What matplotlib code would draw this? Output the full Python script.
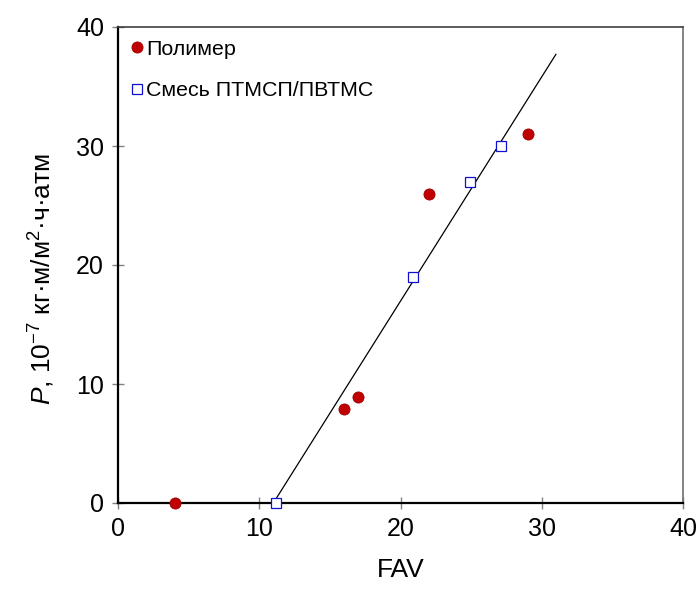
import matplotlib
matplotlib.use("Agg")
import matplotlib.pyplot as plt

plt.rcParams['font.family'] = ['Liberation Sans', 'DejaVu Sans']
plt.rcParams['mathtext.fontset'] = 'custom'
plt.rcParams['mathtext.rm'] = 'Liberation Sans'
plt.rcParams['mathtext.it'] = 'Liberation Sans:italic'

# Data
polymer_x = [4, 16, 17, 22, 29]
polymer_y = [0, 7.9, 8.9, 26, 31]
blend_x = [11.2, 20.9, 24.9, 27.1]
blend_y = [0, 19, 27, 30]
fit_x = [11.0, 31.0]
fit_y = [0, 37.7]

ticks = [0, 10, 20, 30, 40]

fig = plt.figure(figsize=(6.97, 5.90), dpi=100)
ax = fig.add_axes([118/697, 87/590, (683-118)/697, (503-27)/590])

ax.plot(fit_x, fit_y, color='black', lw=0.9, zorder=2)
ax.plot(polymer_x, polymer_y, ls='none', marker='o', ms=8, mfc='#C00000',
        mec='#A00000', mew=0.6, label='Полимер', zorder=3, clip_on=False)
ax.plot(blend_x, blend_y, ls='none', marker='s', ms=7.3, mfc='white',
        mec='#1010D0', mew=0.9, label='Смесь ПТМСП/ПВТМС', zorder=3, clip_on=False)

ax.set_xlim(0, 40)
ax.set_ylim(0, 40)
ax.set_xticks(ticks)
ax.set_yticks(ticks)
ax.tick_params(direction='inout', length=8, width=1, color='#808080',
               labelsize=18, pad=6)

for s in ['left', 'bottom']:
    ax.spines[s].set_linewidth(1.6)
    ax.spines[s].set_color('black')
for s in ['top', 'right']:
    ax.spines[s].set_linewidth(1.2)
    ax.spines[s].set_color('#404040')
ax.spines['right'].set_color('#707070')

ax.set_xlabel('FAV', fontsize=19, labelpad=12)
ax.set_ylabel('$\\mathit{P}$, 10$^{\\mathregular{-7}}$ кг·м/м$^{\\mathregular{2}}$·ч·атм',
              fontsize=19)
ax.yaxis.set_label_coords(-0.108, 0.47)

ax.legend(loc='upper left', frameon=False, fontsize=15.4, handlelength=0.6,
          handletextpad=0.1, labelspacing=1.05, borderaxespad=0.2,
          borderpad=0.4)

fig.savefig('out.png', dpi=100)
